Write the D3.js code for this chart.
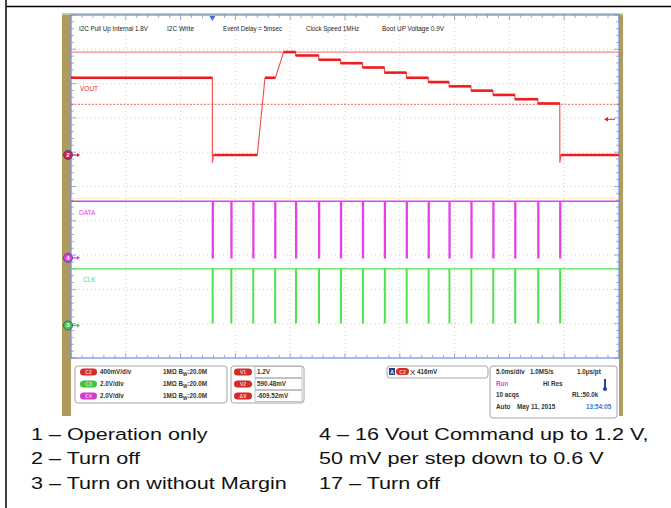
<!DOCTYPE html>
<html>
<head>
<meta charset="utf-8">
<script src="https://cdn.jsdelivr.net/npm/d3@7"></script>
<style>
  body { margin: 0; background: #fff; }
  svg { display: block; font-family: 'Liberation Sans', Arial, sans-serif; }
</style>
</head>
<body>
<svg id="chart" width="671" height="508"></svg>
<script>
// ---- data read off the scope shot ----
// times are ms after the trigger (first I2C frame), 5 ms/div
const timeDomain = [-12.9, 37.1];
const pulseTimes = [0, 1.7, 3.7, 5.7, 7.6, 9.7, 11.7, 13.7, 15.7, 17.7, 19.7, 21.6, 23.6, 25.6, 27.6, 29.7, 31.7];
// VOUT (C2) breakpoints before the stepping starts: [ms, V]
const voutStart = [[-12.9, 0.9], [0, 0.9], [0, -0.09], [0.1, 0], [4.1, 0], [4.8, 0.9], [5.75, 0.9], [6.5, 1.2]];
// levels after each Vout command (1.2 V down to 0.6 V)
const stepLevels = [1.2, 1.16, 1.11, 1.07, 1.02, 0.96, 0.9, 0.85, 0.8, 0.75, 0.7, 0.65, 0.6];
const voutEnd = [[31.7, -0.09], [31.8, 0], [37.1, 0]];
const dataHigh = 3.3, dataLow = 0;
const clkHigh = 3.3, clkLow = 0.15;
const cursorVolts = [1.2, 0.59048];
const triggerLevel = 0.416;

const notes = ['I2C Pull Up Internal 1.8V', 'I2C Write', 'Event Delay = 5msec', 'Clock Speed 1MHz', 'Boot UP Voltage 0.9V'];
const chanRows = [['C2', '400mV/div'], ['C3', '2.0V/div'], ['C4', '2.0V/div']];
const cursorRows = [['V1', '1.2V'], ['V2', '590.48mV'], ['ΔV', '-609.52mV']];
const captionLeft = ['1 – Operation only', '2 – Turn off', '3 – Turn on without Margin'];
const captionRight = ['4 – 16 Vout Command up to 1.2 V,', '50 mV per step down to 0.6 V', '17 – Turn off'];

const svg = d3.select('#chart');

// screen geometry
const L = 71, R = 619, T = 15, B = 358;
const x = d3.scaleLinear().domain(timeDomain).range([L, R]);
const div = d3.scaleLinear().domain([-5, 5]).range([B, T]);

// channels: volts/div and position of ground in divisions
const ch = {
  vout: { vdiv: 0.4, off: 0.92, color: '#f01c1c' },
  data: { vdiv: 2.0, off: -2.08, color: '#e83ee8' },
  clk: { vdiv: 2.0, off: -4.05, color: '#4ee04e' },
};
const yOf = (c) => (v) => div(c.off + v / c.vdiv);

// outer table lines
svg.append('line').attr('x1', 6).attr('x2', 6).attr('y1', 0).attr('y2', 508)
  .attr('stroke', '#000').attr('stroke-width', 1.5);
svg.append('line').attr('x1', 6).attr('x2', 671).attr('y1', 6.5).attr('y2', 6.5)
  .attr('stroke', '#000').attr('stroke-width', 1.5);

// scope frame
svg.append('rect').attr('x', 62).attr('y', 13).attr('width', 561).attr('height', 403).attr('fill', '#b09a5e');
svg.append('rect').attr('x', L).attr('y', T).attr('width', R - L).attr('height', 416 - T).attr('fill', '#fff');
svg.append('rect').attr('x', 62).attr('y', 13).attr('width', 561).attr('height', 2).attr('fill', '#c9cf8e');

// dotted grid
const g = svg.append('g');
g.selectAll('.gx').data(d3.range(1, 10)).join('line')
  .attr('x1', (d) => L + d * (R - L) / 10).attr('x2', (d) => L + d * (R - L) / 10)
  .attr('y1', T).attr('y2', B)
  .attr('stroke', '#c4c4c4').attr('stroke-width', 0.8).attr('stroke-dasharray', '1,3');
g.selectAll('.gy').data(d3.range(-4, 5)).join('line')
  .attr('x1', L).attr('x2', R)
  .attr('y1', (d) => div(d)).attr('y2', (d) => div(d))
  .attr('stroke', '#c4c4c4').attr('stroke-width', 0.8).attr('stroke-dasharray', '1,3');

// edge ticks
const minorX = d3.range(0, 51).map((i) => L + i * (R - L) / 50);
const minorY = d3.range(0, 51).map((i) => T + i * (B - T) / 50);
const tickC = '#7b95cf';
g.selectAll('.tt').data(minorX).join('line')
  .attr('x1', (d) => d).attr('x2', (d) => d).attr('y1', T).attr('y2', (d, i) => T + (i % 5 ? 3 : 5))
  .attr('stroke', tickC).attr('stroke-width', 0.8);
g.selectAll('.tb').data(minorX).join('line')
  .attr('x1', (d) => d).attr('x2', (d) => d).attr('y1', B).attr('y2', (d, i) => B - (i % 5 ? 3 : 5))
  .attr('stroke', tickC).attr('stroke-width', 0.8);
g.selectAll('.tl').data(minorY).join('line')
  .attr('y1', (d) => d).attr('y2', (d) => d).attr('x1', L).attr('x2', (d, i) => L + (i % 5 ? 3 : 5))
  .attr('stroke', tickC).attr('stroke-width', 0.8);
g.selectAll('.tr').data(minorY).join('line')
  .attr('y1', (d) => d).attr('y2', (d) => d).attr('x1', R).attr('x2', (d, i) => R - (i % 5 ? 3 : 5))
  .attr('stroke', tickC).attr('stroke-width', 0.8);
svg.append('rect').attr('x', L).attr('y', T).attr('width', R - L).attr('height', B - T)
  .attr('fill', 'none').attr('stroke', '#6f8fe0').attr('stroke-width', 1.2);

// trigger position marker
svg.append('path')
  .attr('d', `M${x(0) - 3},${T + 1}L${x(0) + 3},${T + 1}L${x(0)},${T + 6}Z`)
  .attr('fill', '#3f6fd8');

// notes on top
const noteX = [79, 167, 223, 306, 382];
const noteW = [69, 27, 59, 53, 62];
svg.selectAll('.note').data(notes).join('text')
  .attr('x', (d, i) => noteX[i]).attr('y', 31)
  .attr('textLength', (d, i) => noteW[i]).attr('lengthAdjust', 'spacingAndGlyphs')
  .attr('font-size', 7).attr('fill', '#222').text((d) => d);

// cursors
const yV = yOf(ch.vout);
svg.append('line').attr('x1', L).attr('x2', R).attr('y1', yV(cursorVolts[0])).attr('y2', yV(cursorVolts[0]))
  .attr('stroke', '#ef8a8a').attr('stroke-width', 1.2);
svg.append('line').attr('x1', L).attr('x2', R).attr('y1', yV(cursorVolts[1])).attr('y2', yV(cursorVolts[1]))
  .attr('stroke', '#e23a3a').attr('stroke-width', 0.8).attr('stroke-dasharray', '2,1.5');

// VOUT trace
const voutPts = voutStart.slice();
stepLevels.forEach((v, i) => {
  const tEnd = pulseTimes[4 + i];
  voutPts.push([tEnd, v]);
  if (i < stepLevels.length - 1) voutPts.push([tEnd, stepLevels[i + 1]]);
});
voutEnd.forEach((p) => voutPts.push(p));
const voutLine = d3.line().x((d) => x(d[0])).y((d) => yV(d[1]));
svg.append('path').datum(voutPts).attr('d', voutLine)
  .attr('fill', 'none').attr('stroke', '#f24a4a').attr('stroke-width', 1.1);
const flats = [];
for (let i = 1; i < voutPts.length; i++) {
  if (voutPts[i][1] === voutPts[i - 1][1] && voutPts[i][0] > voutPts[i - 1][0]) flats.push([voutPts[i - 1], voutPts[i]]);
}
svg.selectAll('.flat').data(flats).join('path')
  .attr('d', voutLine).attr('fill', 'none')
  .attr('stroke', ch.vout.color).attr('stroke-width', 2.6);

// I2C lines
function pulseTrain(hi, lo, w) {
  const pts = [[timeDomain[0], hi]];
  pulseTimes.forEach((t) => {
    pts.push([t, hi], [t, lo], [t + w, lo], [t + w, hi]);
  });
  pts.push([timeDomain[1], hi]);
  return pts;
}
const yD = yOf(ch.data);
const yC = yOf(ch.clk);
// faint C1 trace sitting just above DATA
svg.append('line').attr('x1', L).attr('x2', R).attr('y1', yD(dataHigh) - 3).attr('y2', yD(dataHigh) - 3)
  .attr('stroke', '#f4f0c0').attr('stroke-width', 1);
svg.append('path').datum(pulseTrain(dataHigh, dataLow, 0.08))
  .attr('d', d3.line().x((d) => x(d[0])).y((d) => yD(d[1])))
  .attr('fill', 'none').attr('stroke', ch.data.color).attr('stroke-width', 1.4);
svg.append('path').datum(pulseTrain(clkHigh, clkLow, 0.06))
  .attr('d', d3.line().x((d) => x(d[0])).y((d) => yC(d[1])))
  .attr('fill', 'none').attr('stroke', ch.clk.color).attr('stroke-width', 1.3);

// trace labels, placed just under each channel's resting level
const labels = [['VOUT', yV(0.9), 80], ['DATA', yD(dataHigh), 79], ['CLK', yC(clkHigh), 83]];
const labelColor = [ch.vout.color, ch.data.color, ch.clk.color];
svg.selectAll('.lab').data(labels).join('text')
  .attr('x', (d) => d[2]).attr('y', (d) => d[1] + 13.5)
  .attr('font-size', 6.5).attr('fill', (d, i) => labelColor[i]).text((d) => d[0]);

// channel ground markers
const markers = [['2', ch.vout, '#d8203a'], ['4', ch.data, '#e040e0'], ['3', ch.clk, '#3ccc3c']];
const mk = svg.selectAll('.mk').data(markers).join('g')
  .attr('transform', (d) => `translate(68,${yOf(d[1])(0)})`);
mk.append('line').attr('x1', 4).attr('x2', 11).attr('stroke', (d) => d[2]).attr('stroke-width', 1.2);
mk.append('path').attr('d', 'M9,-2L12,0L9,2Z').attr('fill', (d) => d[2]);
mk.append('circle').attr('r', 4.5).attr('fill', (d) => d[2]).attr('stroke', '#3040a0').attr('stroke-width', 0.8);
mk.append('text').attr('text-anchor', 'middle').attr('y', 2).attr('font-size', 6)
  .attr('fill', '#fff').attr('font-weight', 'bold').text((d) => d[0]);

// trigger level arrow on the right edge
const yT = yV(triggerLevel);
svg.append('line').attr('x1', 608).attr('x2', 615).attr('y1', yT).attr('y2', yT)
  .attr('stroke', '#e02020').attr('stroke-width', 1);
svg.append('path').attr('d', `M604,${yT}L608,${yT - 2.2}L608,${yT + 2.2}Z`).attr('fill', '#e02020');

// ---- readout panel ----
const pillColor = { C2: '#d42a2a', C3: '#3fc63f', C4: '#d23ad2', V1: '#d42a2a', V2: '#d42a2a', 'ΔV': '#d42a2a' };
const panelFont = (s) => s.attr('font-size', 6.3).attr('font-weight', 'bold').attr('fill', '#333');
function box(x0, y0, w, h) {
  svg.append('rect').attr('x', x0).attr('y', y0).attr('width', w).attr('height', h).attr('rx', 3)
    .attr('fill', '#fff').attr('stroke', '#9a9a9a').attr('stroke-width', 0.9);
}
function pill(x0, yc, w, label) {
  svg.append('rect').attr('x', x0).attr('y', yc - 3.5).attr('width', w).attr('height', 7).attr('rx', 3.5)
    .attr('fill', pillColor[label]);
  svg.append('text').attr('x', x0 + w / 2).attr('y', yc + 2).attr('text-anchor', 'middle')
    .attr('font-size', 5).attr('font-weight', 'bold').attr('fill', '#f4d0d0').text(label);
}
const rowY = [372, 384, 396];

box(75, 366, 152, 37);
chanRows.forEach((r, i) => {
  pill(80, rowY[i], 17, r[0]);
  svg.append('text').attr('x', 100).attr('y', rowY[i] + 2.3).text(r[1]).call(panelFont);
  const t = svg.append('text').attr('x', 163).attr('y', rowY[i] + 2.3).call(panelFont);
  t.append('tspan').text('1MΩ  B');
  t.append('tspan').attr('font-size', 4.5).attr('dy', 1.5).text('W');
  t.append('tspan').attr('dy', -1.5).text(':20.0M');
});

box(231, 366, 73, 37);
cursorRows.forEach((r, i) => {
  pill(234, rowY[i], 18, r[0]);
  svg.append('rect').attr('x', 255).attr('y', rowY[i] - 5.5).attr('width', 47).attr('height', 11)
    .attr('fill', '#fff').attr('stroke', '#a8a8a8').attr('stroke-width', 0.7);
  svg.append('text').attr('x', 257).attr('y', rowY[i] + 2.3).text(r[1]).call(panelFont);
});

box(387, 366, 101, 12);
svg.append('rect').attr('x', 389).attr('y', 368).attr('width', 6).attr('height', 7).attr('fill', '#24408e');
svg.append('text').attr('x', 392).attr('y', 374).attr('text-anchor', 'middle').attr('font-size', 5)
  .attr('fill', '#fff').attr('font-weight', 'bold').text('A');
pill(396, 371.5, 13, 'C2');
svg.append('text').attr('x', 410).attr('y', 375).attr('font-size', 8).attr('fill', '#222').text('X');
svg.append('text').attr('x', 417).attr('y', 374).text(`${triggerLevel * 1000}mV`).call(panelFont);

box(490, 366, 127, 52);
const tb = [
  [[496, '5.0ms/div', '#333'], [530, '1.0MS/s', '#333'], [577, '1.0μs/pt', '#333']],
  [[496, 'Run', '#d848d8'], [543, 'Hi Res', '#333']],
  [[496, '10 acqs', '#333'], [572, 'RL:50.0k', '#333']],
  [[496, 'Auto', '#333'], [517, 'May 11, 2015', '#333'], [586, '13:54:05', '#3a78d8']],
];
tb.forEach((row, i) => {
  row.forEach((c) => {
    svg.append('text').attr('x', c[0]).attr('y', 374 + i * 11.7).text(c[1]).call(panelFont).attr('fill', c[2]);
  });
});
svg.append('rect').attr('x', 604).attr('y', 379).attr('width', 2).attr('height', 9).attr('fill', '#2040b0');
svg.append('circle').attr('cx', 605).attr('cy', 389).attr('r', 2).attr('fill', '#2040b0');

// ---- caption below the screenshot (source image is stretched sideways) ----
const sx = 1.31;
const cap = svg.append('g').attr('transform', `scale(${sx},1)`);
cap.selectAll('.capL').data(captionLeft).join('text')
  .attr('x', 31 / sx).attr('y', (d, i) => 440 + i * 24.5)
  .attr('font-size', 16.5).attr('fill', '#111').text((d) => d);
cap.selectAll('.capR').data(captionRight).join('text')
  .attr('x', 319 / sx).attr('y', (d, i) => 440 + i * 24.5)
  .attr('font-size', 16.5).attr('fill', '#111').text((d) => d);
</script>
</body>
</html>
